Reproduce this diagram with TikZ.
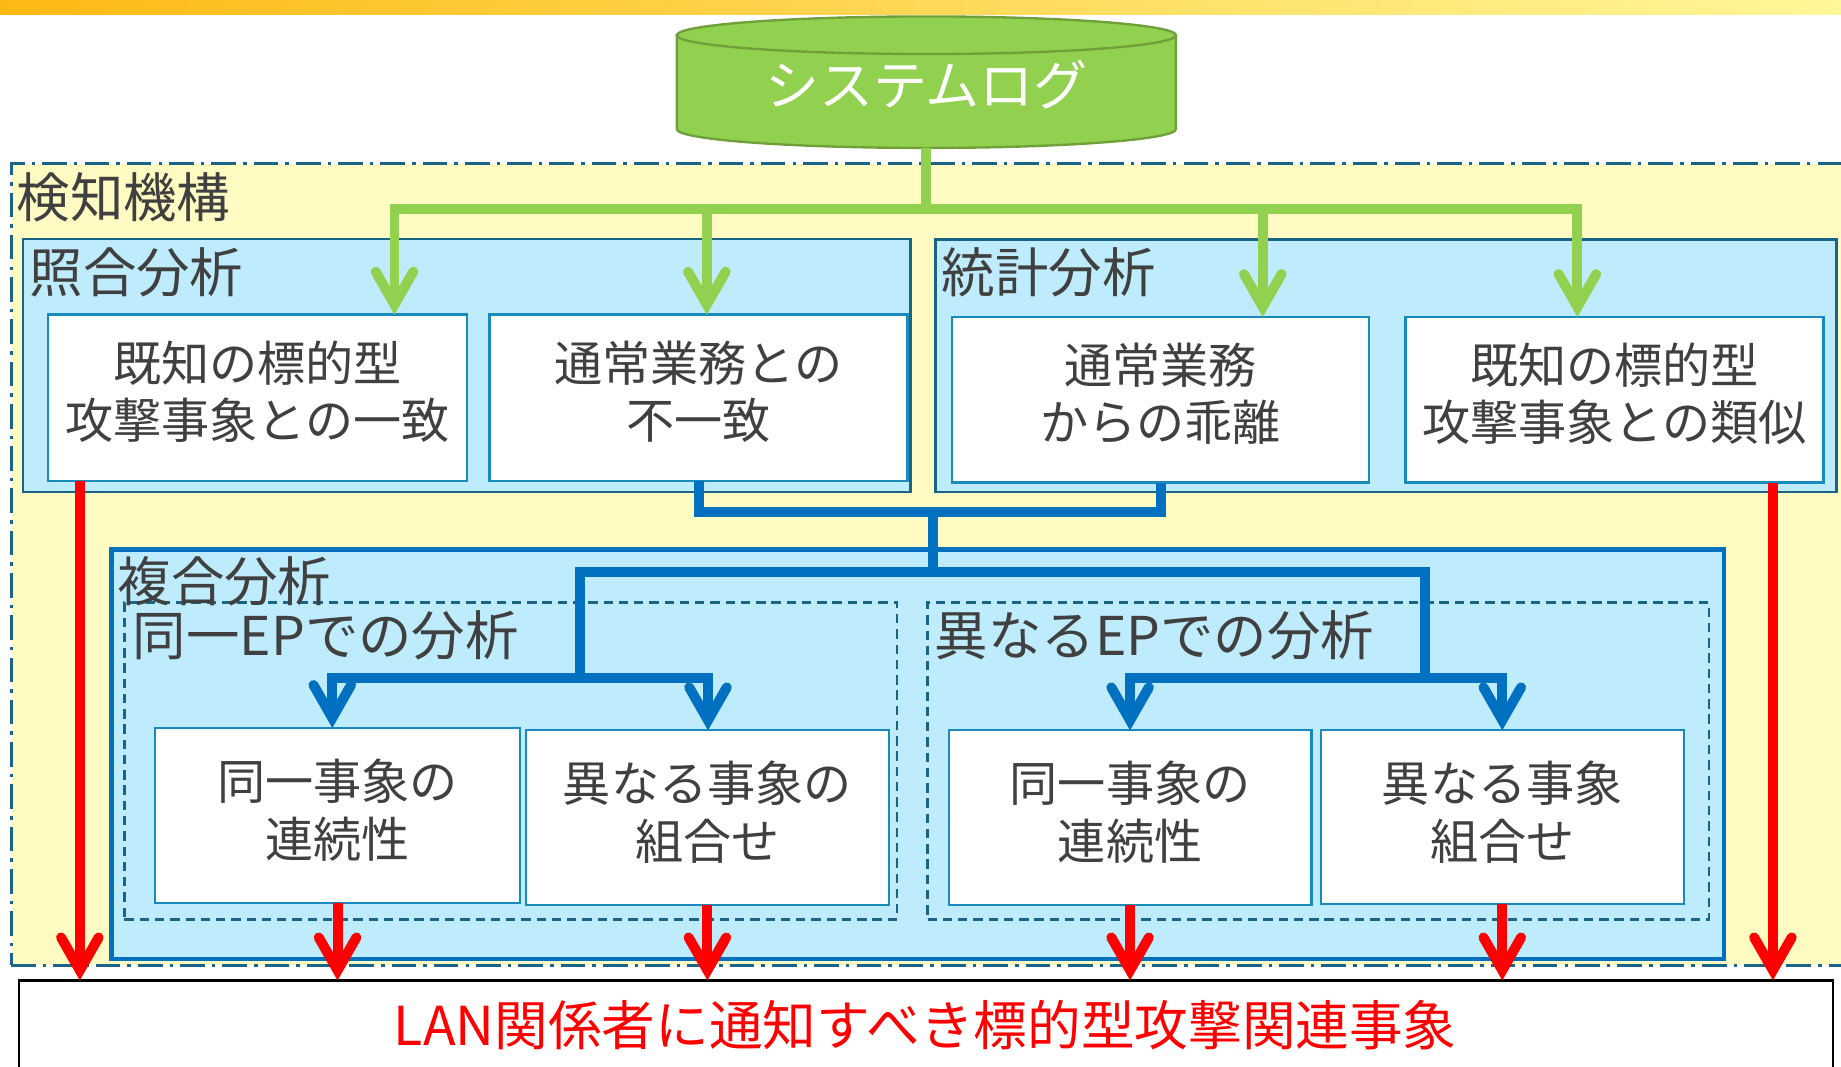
\documentclass[tikz,border=0pt]{standalone}
\usepackage{fontspec}
\setmainfont{Noto Sans CJK JP}
\usetikzlibrary{arrows.meta}
\definecolor{txtgray}{RGB}{64,64,64}
\definecolor{lblue}{RGB}{190,236,253}
\definecolor{tealc}{RGB}{25,100,135}
\definecolor{wborder}{RGB}{25,138,190}
\definecolor{bluec}{RGB}{0,112,192}
\definecolor{greenc}{RGB}{146,208,80}
\definecolor{greend}{RGB}{112,160,58}
\definecolor{redc}{RGB}{255,0,0}
\definecolor{yelfill}{RGB}{255,251,195}
\definecolor{bandl}{RGB}{253,185,19}
\definecolor{bandr}{RGB}{255,247,153}
\tikzset{
  box/.style={inner sep=0pt, outer sep=0pt},
  grp/.style={box, draw=tealc, line width=2.3pt, fill=lblue},
  wbox/.style={box, draw=wborder, line width=2pt, fill=white},
  dbox/.style={box, draw=tealc, line width=2.2pt, dash pattern=on 8pt off 5pt},
  btxt/.style={text=txtgray, font=\fontsize{41}{49}\selectfont, align=center, inner sep=0pt},
  htxt/.style={text=txtgray, font=\fontsize{45.5}{54}\selectfont, anchor=west, inner sep=0pt},
  tipv/.style={-{Straight Barb[length=28pt,width=32pt,line cap=round,line join=miter]}},
  gline/.style={draw=greenc, line width=8.5pt},
  bline/.style={draw=bluec, line width=8.5pt},
  rline/.style={draw=redc, line width=8.5pt},
}
\begin{document}
\begin{tikzpicture}[x=1pt,y=-1pt]
\useasboundingbox (0,0) rectangle (1568,908);
\clip (0,0) rectangle (1568,908);
% top band
\shade[left color=bandl, right color=bandr] (0,0) rectangle (1568,12.5);
% outer region
\node[box, fill=yelfill, draw=tealc, line width=2.5pt, dash pattern=on 21pt off 6pt on 3pt off 6pt,
      minimum width=1590.5pt, minimum height=682.5pt] (outer) at (804.75,480.75) {};
% group boxes
\node[grp, minimum width=756pt, minimum height=215.5pt] (g1) at (397.5,311.25) {};
\node[grp, minimum width=767.5pt, minimum height=215pt] (g2) at (1180.25,311.5) {};
\node[box, draw=bluec, line width=3.5pt, fill=lblue, minimum width=1373pt, minimum height=348.5pt] (fb) at (781.5,642.25) {};
\node[dbox, minimum width=658pt, minimum height=270pt] (d1) at (435,648) {};
\node[dbox, minimum width=665.5pt, minimum height=270pt] (d2) at (1122.75,648) {};
% white boxes
\node[wbox, minimum width=357pt, minimum height=141.5pt] (b1) at (219.5,338.75) {};
\node[wbox, minimum width=356pt, minimum height=141.5pt] (b2) at (595,338.75) {};
\node[wbox, minimum width=355pt, minimum height=141pt] (b3) at (988.5,340.5) {};
\node[wbox, minimum width=356pt, minimum height=141pt] (b4) at (1375,340.5) {};
\node[wbox, minimum width=311pt, minimum height=149pt] (b5) at (287.5,694.5) {};
\node[wbox, minimum width=309pt, minimum height=149pt] (b6) at (602.5,696.5) {};
\node[wbox, minimum width=309pt, minimum height=149pt] (b7) at (962.5,696.5) {};
\node[wbox, minimum width=309pt, minimum height=148pt] (b8) at (1279.5,696) {};
% bottom box
\node[box, draw=black, line width=2pt, fill=white, minimum width=1545pt, minimum height=105pt] (out) at (788.5,887.5) {};
% cylinder
\filldraw[fill=greenc, draw=greend, line width=2pt] (576.5,30) -- (576.5,110)
  arc[start angle=180, end angle=0, x radius=212.5, y radius=16] -- (1001.5,30) -- cycle;
\filldraw[fill=greenc, draw=greend, line width=2pt] (789,30) ellipse[x radius=212.5, y radius=16];
\node[text=white, font=\fontsize{46}{55}\selectfont, inner sep=0pt] (db) at (789,72) {システムログ};
\coordinate (dbb) at (789,126);
% green connectors
\coordinate (gj) at (789,178);
\coordinate (gl1) at (336,178);
\coordinate (gl2) at (602,178);
\coordinate (gl3) at (1075.5,178);
\coordinate (gl4) at (1343.5,178);
\draw[gline] (dbb) -- (gj);
\draw[gline, tipv] (gj) -| (b1.north -| gl1);
\draw[gline, tipv] (gj) -| (b4.north -| gl4);
\draw[gline, tipv] (gl2) -- (b2.north -| gl2);
\draw[gline, tipv] (gl3) -- (b3.north -| gl3);
% blue connectors
\coordinate (bj) at (795,436);
\coordinate (bk) at (795,487);
\coordinate (lj) at (493.6,577.5);
\coordinate (rj) at (1214,577.5);
\coordinate (la) at (283,577.5);
\coordinate (ra) at (603,577.5);
\draw[bline] (b2.south) |- (bj) -| (b3.south);
\draw[bline] (bj) -- (bk);
\draw[bline] (bk) -| (lj);
\draw[bline] (bk) -| (rj);
\draw[bline, tipv] (lj) -| (b5.north -| la);
\draw[bline, tipv] (lj) -| (b6.north -| ra);
\draw[bline, tipv] (rj) -| (b7.north);
\draw[bline, tipv] (rj) -| (b8.north);
% red connectors
\coordinate (rx1) at (68,409.5);
\coordinate (rx6) at (1510,411);
\draw[rline, tipv] (rx1) -- (out.north -| rx1);
\draw[rline, tipv] (rx6) -- (out.north -| rx6);
\draw[rline, tipv] (b5.south) -- (out.north -| b5.south);
\draw[rline, tipv] (b6.south) -- (out.north -| b6.south);
\draw[rline, tipv] (b7.south) -- (out.north -| b7.south);
\draw[rline, tipv] (b8.south) -- (out.north -| b8.south);
% headings
\node[htxt] (h0) at (14,168) {検知機構};
\node[htxt] (h1) at (25,232) {照合分析};
\node[htxt] (h2) at (802,232) {統計分析};
\node[htxt] (h3) at (100,495) {複合分析};
\node[htxt] (h4) at (113,541) {同一EPでの分析};
\node[htxt] (h5) at (796,541) {異なるEPでの分析};
% box texts
\node[btxt] (t1) at (219.5,333.5) {既知の標的型\\攻撃事象との一致};
\node[btxt] (t2) at (595,333.5) {通常業務との\\不一致};
\node[btxt] (t3) at (988.5,335.5) {通常業務\\からの乖離};
\node[btxt] (t4) at (1375,335.5) {既知の標的型\\攻撃事象との類似};
\node[btxt] (t5) at (287.5,690) {同一事象の\\連続性};
\node[btxt] (t6) at (602.5,691.5) {異なる事象の\\組合せ};
\node[btxt] (t7) at (962.5,691.5) {同一事象の\\連続性};
\node[btxt] (t8) at (1279.5,691.5) {異なる事象\\組合せ};
\node[text=redc, font=\fontsize{45.7}{55}\selectfont, inner sep=0pt] (t9) at (788,873) {LAN関係者に通知すべき標的型攻撃関連事象};
\end{tikzpicture}
\end{document}
